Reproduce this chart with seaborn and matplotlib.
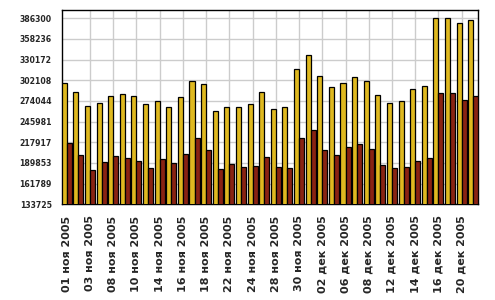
import matplotlib
matplotlib.use("Agg")
import matplotlib.pyplot as plt
import seaborn as sns
import pandas as pd

dates = [
    "01 ноя 2005", "02 ноя 2005", "03 ноя 2005", "07 ноя 2005", "08 ноя 2005",
    "09 ноя 2005", "10 ноя 2005", "11 ноя 2005", "14 ноя 2005", "15 ноя 2005",
    "16 ноя 2005", "17 ноя 2005", "18 ноя 2005", "21 ноя 2005", "22 ноя 2005",
    "23 ноя 2005", "24 ноя 2005", "25 ноя 2005", "28 ноя 2005", "29 ноя 2005",
    "30 ноя 2005", "01 дек 2005", "02 дек 2005", "05 дек 2005", "06 дек 2005",
    "07 дек 2005", "08 дек 2005", "09 дек 2005", "12 дек 2005", "13 дек 2005",
    "14 дек 2005", "15 дек 2005", "16 дек 2005", "19 дек 2005", "20 дек 2005",
    "21 дек 2005",
]

series_yellow = [
    298000, 285800, 266800, 270900, 280400, 283100, 280400, 269500, 273600, 265400,
    279000, 300700, 296700, 260000, 265400, 265400, 269500, 285800, 262700, 265400,
    317000, 336000, 307500, 292600, 298000, 306200, 300700, 281700, 270900, 273600,
    289900, 294000, 386300, 386300, 379500, 383600,
]

series_red = [
    216600, 200300, 179900, 190800, 198900, 196200, 192100, 182600, 194800, 189400,
    201600, 223300, 207100, 181300, 188000, 184000, 185300, 197500, 184000, 182600,
    223300, 234200, 207100, 200300, 211100, 215200, 208400, 186700, 182600, 184000,
    192100, 196200, 284500, 284500, 274900, 280400,
]

y_ticks = [133725, 161789, 189853, 217917, 245981, 274044, 302108, 330172, 358236, 386300]
series_names = ["Ряд 1", "Ряд 2"]
colors = ["#FFCC00", "#9C1500"]

df = pd.DataFrame({
    "date": dates * 2,
    "value": series_yellow + series_red,
    "series": [series_names[0]] * len(dates) + [series_names[1]] * len(dates),
})

sns.set_style("white")
plt.rcParams["font.family"] = ["DejaVu Sans"]

fig = plt.figure(figsize=(4.95, 3.0), dpi=100)
ax = fig.add_axes([0.1247, 0.319, 0.8416, 0.6476])

sns.barplot(data=df, x="date", y="value", hue="series", order=dates,
            hue_order=series_names, palette=colors, width=0.865,
            edgecolor="black", linewidth=0.9, legend=False, ax=ax,
            errorbar=None, zorder=3)

ax.set_ylim(y_ticks[0], y_ticks[-1] + (y_ticks[-1] - y_ticks[0]) * 8.3 / 186)
ax.set_xlim(-0.4325, len(dates) - 1 + 0.4325)

ax.set_axisbelow(True)
ax.set_yticks(y_ticks)
ax.set_yticklabels([str(v) for v in y_ticks], fontsize=5.6, fontweight="bold")
for v in y_ticks:
    ax.axhline(v, color="#CCCCCC", linewidth=1.0, zorder=0)
for i in range(2, len(dates), 2):
    ax.axvline(i, color="#CCCCCC", linewidth=1.0, zorder=0)

ax.set_xticks(range(len(dates)))
ax.set_xticklabels([d if i % 2 == 0 else "" for i, d in enumerate(dates)],
                   rotation=90, fontsize=8, fontweight="bold")
ax.tick_params(axis="x", direction="out", length=4, width=0.9, color="black", pad=4)
ax.tick_params(axis="y", direction="out", length=3, width=0.9, color="black", pad=4)
ax.set_xlabel("")
ax.set_ylabel("")
for s in ax.spines.values():
    s.set_visible(True)
    s.set_color("black")
    s.set_linewidth(1.0)
ax.grid(False)

fig.savefig("out.png", dpi=100)
